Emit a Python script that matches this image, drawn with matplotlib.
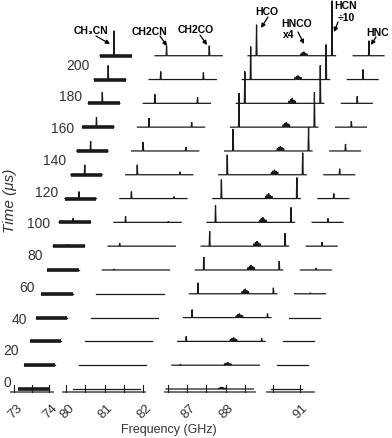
import matplotlib
matplotlib.use("Agg")
import matplotlib.pyplot as plt

# ---------------- data ----------------
times = [0, 15, 30, 45, 60, 75, 90, 105, 120, 135, 150, 165, 180, 195, 210]   # µs, one trace each
time_labels = [0, 20, 40, 60, 80, 100, 120, 140, 160, 180, 200]

# frequency windows (GHz) covered by the spectra
seg_data = [(73.10, 74.00), (80.18, 81.92), (86.45, 88.72), (90.25, 91.05)]
# frequency windows covered by the broken bottom axis
seg_axis = [(72.90, 74.10), (79.92, 82.05), (86.43, 88.77), (90.14, 91.36)]
seg_ticks = [[73, 73.5, 74], [80, 80.5, 81, 81.5, 82], [86.5, 87, 87.5, 88, 88.5], [90.3, 91]]
tick_labels = [73, 74, 80, 81, 82, 87, 88, 91]

species = ["CH3CN", "CH2CN", "CH2CO", "HCO", "HNCO", "HCN", "HNC"]
freqs = {
    "CH3CN": [73.50],
    "CH2CN": [80.48],
    "CH2CO": [81.586],
    "HCO":   [86.67],
    "HNCO":  [87.82, 87.86, 87.90, 87.94, 87.98],
    "HCN":   [88.63],
    "HNC":   [90.66],
}
# relative weights for multi-component lines
weights = {"HNCO": [0.5, 0.8, 1.0, 0.7, 0.5]}
# peak heights (arbitrary units) for each trace, time order
heights = {
    "CH3CN": [0, 0, 0, 0, 0, 0, 2, 4, 7, 10, 10, 10, 11, 14, 25],
    "CH2CN": [0, 0, 0, 0, 0, 1, 3, 6, 7, 10, 9, 9, 9, 8, 10],
    "CH2CO": [0, 0, 0, 0, 0, 0, 0, 1, 2, 3, 4, 5, 6, 7, 10],
    "HCO":   [0, 1, 5, 8, 11, 13, 15, 17, 19, 20, 22, 34, 32, 33, 31],
    "HNCO":  [2, 3, 4, 4, 5, 5, 5, 5, 5, 5, 5, 5, 5, 4, 4],
    "HCN":   [0, 0, 3, 4, 6, 9, 13, 15, 21, 22, 24, 35, 38, 35, 55],
    "HNC":   [0, 0, 0, 0, 1, 2, 4, 4, 5, 6, 7, 6, 7, 10, 15],
}

# ---------------- layout ----------------
W, H = 392, 439
Y0 = 390.0          # pixel row of t = 0 baseline
PX_PER_US = 1.587   # vertical pixels per µs
SKEW = 0.3907       # horizontal pixels per µs (oblique projection)
AMP = 1.0 / PX_PER_US
# per segment: reference freq, pixel position, pixels per GHz
seg_map = [(73.0, 14.5, 35.0), (80.0, 66.0, 38.6), (87.0, 187.2, 38.5), (91.0, 300.0, 38.5)]


def pos(f):
    for (lo, hi), (f0, x0, s) in zip(seg_axis, seg_map):
        if lo - 0.3 <= f <= hi + 0.3:
            return x0 + (f - f0) * s
    raise ValueError(f)


def py(ypx):
    return (Y0 - ypx) / PX_PER_US


fig = plt.figure(figsize=(W / 100, H / 100), dpi=100)
ax = fig.add_axes([0, 0, 1, 1])
ax.set_xlim(0, W)
ax.set_ylim(py(H), py(0))
ax.axis("off")

FONT = ["Liberation Sans", "DejaVu Sans"]
LINE = "#1a1a1a"
dw = 0.012

for i, t in enumerate(times):
    for k, (lo, hi) in enumerate(seg_data):
        pts = []
        for sp in species:
            for j, f in enumerate(freqs[sp]):
                if lo <= f <= hi:
                    w = weights.get(sp, [1.0] * len(freqs[sp]))[j]
                    pts.append((f, heights[sp][i] * w))
        pts.sort()
        xs, ys = [lo], [0.0]
        for f, h in pts:
            xs += [f - dw, f, f + dw]
            ys += [0.0, h, 0.0]
        xs.append(hi)
        ys.append(0.0)
        X = [pos(f) + SKEW * t for f in xs]
        Y = [t + v * AMP for v in ys]
        if k == 0:
            # the first window is much noisier: draw a heavy baseline band
            ax.plot([X[0], X[-1]], [t, t], color=LINE, lw=2.6, zorder=3,
                    solid_capstyle="butt")
        ax.plot(X, Y, color=LINE, lw=0.9, solid_joinstyle="miter", zorder=3)

# broken frequency axis
y_axis = py(393)
for (lo, hi), ticks in zip(seg_axis, seg_ticks):
    ax.plot([pos(lo), pos(hi)], [y_axis, y_axis], color="#666666", lw=1.3, zorder=2)
    for f in ticks:
        ax.plot([pos(f), pos(f)], [y_axis, py(386)], color=LINE, lw=0.8, zorder=2)
for f in tick_labels:
    ax.text(pos(f) + 1, py(412), str(f), rotation=45, rotation_mode="anchor",
            ha="center", va="center", fontsize=9.5, color="#333333", family=FONT)
ax.text(168.5, py(430), "Frequency (GHz)", ha="center", va="center",
        fontsize=9, color="#333333", family=FONT)

# time labels along the oblique axis
for t in time_labels:
    ax.text(11.5 + SKEW * t, t + 7 / PX_PER_US, str(t), ha="right", va="center",
            fontsize=10, color="#333333", family=FONT)
ax.text(10, py(201), "Time (μs)", rotation=90, ha="center", va="center",
        fontsize=11, style="italic", color="#333333", family=FONT)

# annotations
notes = [
    ("CH₃CN", (91, 31), (96, 37), (110, 45)),
    ("CH2CN", (150, 32), (160, 37), (167, 47)),
    ("CH2CO", (196, 30), (200, 36), (207, 46)),
    ("HCO", (267, 12), (268, 18), (261, 29)),
    ("HNCO", (297, 24), (298, 33), (304, 45)),
    ("x4", (289, 35), None, None),
    ("HCN", (346, 6), (338, 23), (334, 33)),
    ("÷10", (346, 18), None, None),
    ("HNC", (378, 33), (376, 38), (371, 46)),
]
for txt, (tx, ty), tail, head in notes:
    ax.text(tx, py(ty), txt, ha="center", va="center", fontsize=7.5,
            fontweight="bold", color="black", family=FONT, zorder=5)
    if tail is not None:
        ax.annotate("", xy=(head[0], py(head[1])), xytext=(tail[0], py(tail[1])),
                    arrowprops=dict(arrowstyle="-|>", color="black", lw=0.9,
                                    mutation_scale=6, shrinkA=0, shrinkB=0),
                    zorder=5)

fig.savefig("out.png", dpi=100)
